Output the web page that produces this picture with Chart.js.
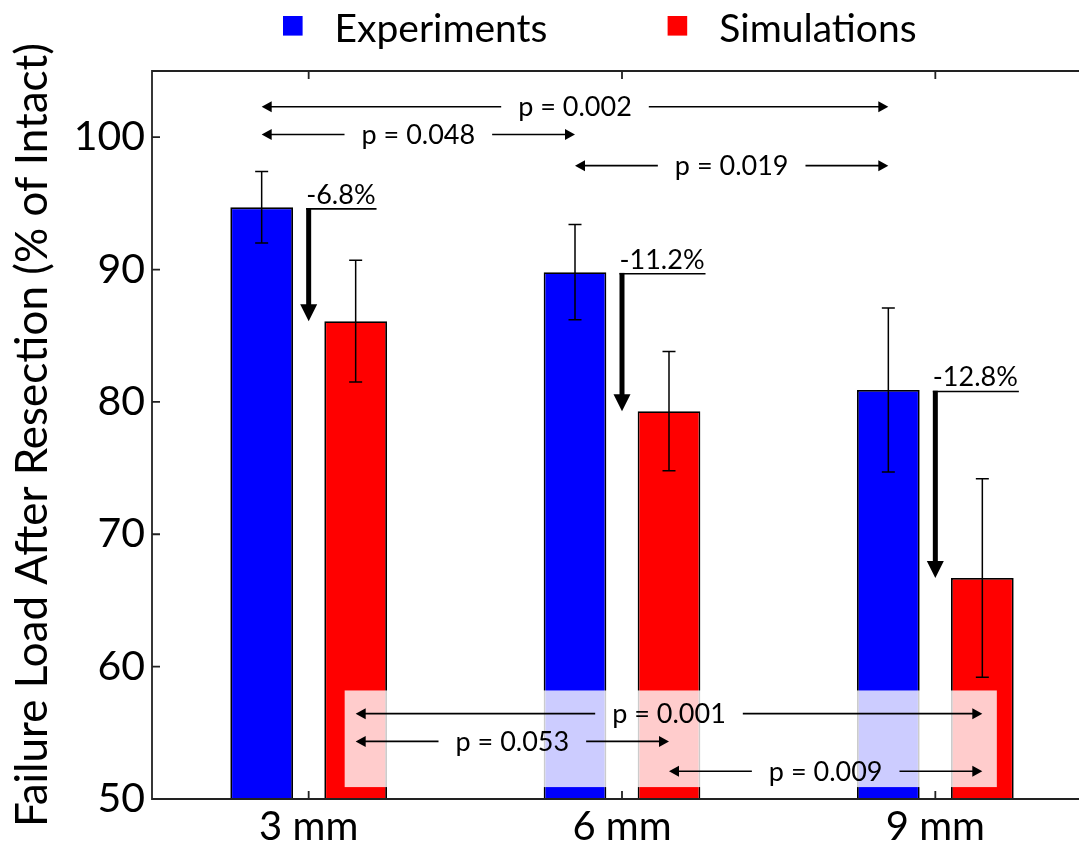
<!DOCTYPE html>
<html>
<head>
    <title>Failure Load After Resection</title>
    <script src="https://cdn.jsdelivr.net/npm/chart.js@4.4.1/dist/chart.umd.min.js"></script>
    <style>
        html, body {
            margin: 0;
            padding: 0;
            background: #fff;
            overflow: hidden;
        }
        /* the plot box runs a little past the right edge of the window, as in the original */
        .wrap {
            width: 1092px;
            height: 848px;
            position: relative;
        }
    </style>
</head>
<body>
    <div class="wrap">
        <canvas id="chart"></canvas>
    </div>

    <script>
        const categories = ['3 mm', '6 mm', '9 mm'];
        const experiments = [94.7, 89.8, 80.9];
        const experimentsSd = [2.7, 3.6, 6.2];
        const simulations = [86.1, 79.3, 66.7];
        const simulationsSd = [4.6, 4.5, 7.5];
        const changeLabels = ['-6.8%', '-11.2%', '-12.8%'];

        // pairwise comparisons (category indexes) and their p-values
        const expPairs = [[0, 2], [0, 1], [1, 2]];
        const expPValues = ['p = 0.002', 'p = 0.048', 'p = 0.019'];
        const simPairs = [[0, 2], [0, 1], [1, 2]];
        const simPValues = ['p = 0.001', 'p = 0.053', 'p = 0.009'];

        const FONT = 'Lato, "Open Sans", sans-serif';
        const INK = '#000';

        function arrowHead(ctx, x, y, dir, len, half) {
            // dir: 'left', 'right', 'down'
            ctx.beginPath();
            if (dir === 'left') {
                ctx.moveTo(x, y); ctx.lineTo(x + len, y - half); ctx.lineTo(x + len, y + half);
            } else if (dir === 'right') {
                ctx.moveTo(x, y); ctx.lineTo(x - len, y - half); ctx.lineTo(x - len, y + half);
            } else {
                ctx.moveTo(x, y); ctx.lineTo(x - half, y - len); ctx.lineTo(x + half, y - len);
            }
            ctx.closePath();
            ctx.fill();
        }

        function pArrow(ctx, x1, x2, y, text) {
            ctx.font = '27px ' + FONT;
            const w = ctx.measureText(text).width;
            const cx = (x1 + x2) / 2;
            const gap = 17;
            ctx.strokeStyle = INK;
            ctx.fillStyle = INK;
            ctx.lineWidth = 1.6;
            ctx.beginPath();
            ctx.moveTo(x1 + 6, y); ctx.lineTo(cx - w / 2 - gap, y);
            ctx.moveTo(cx + w / 2 + gap, y); ctx.lineTo(x2 - 6, y);
            ctx.stroke();
            arrowHead(ctx, x1, y, 'left', 10, 5.5);
            arrowHead(ctx, x2, y, 'right', 10, 5.5);
            ctx.textAlign = 'center';
            ctx.textBaseline = 'middle';
            ctx.fillText(text, cx, y + 1);
        }

        const annotations = {
            id: 'annotations',
            afterDatasetsDraw(chart) {
                const ctx = chart.ctx;
                const y = chart.scales.y;
                const area = chart.chartArea;
                const blue = chart.getDatasetMeta(0).data;
                const red = chart.getDatasetMeta(1).data;
                ctx.save();

                // error bars
                ctx.strokeStyle = INK;
                ctx.lineWidth = 1.5;
                [[blue, experiments, experimentsSd], [red, simulations, simulationsSd]].forEach(([bars, vals, sds]) => {
                    bars.forEach((bar, i) => {
                        const top = y.getPixelForValue(vals[i] + sds[i]);
                        const bot = y.getPixelForValue(vals[i] - sds[i]);
                        ctx.beginPath();
                        ctx.moveTo(bar.x, top); ctx.lineTo(bar.x, bot);
                        ctx.moveTo(bar.x - 6.5, top); ctx.lineTo(bar.x + 6.5, top);
                        ctx.moveTo(bar.x - 6.5, bot); ctx.lineTo(bar.x + 6.5, bot);
                        ctx.stroke();
                    });
                });

                // drop from experiment to simulation, with percentage
                ctx.font = '27px ' + FONT;
                ctx.textAlign = 'left';
                ctx.textBaseline = 'alphabetic';
                changeLabels.forEach((label, i) => {
                    const x = (blue[i].x + red[i].x) / 2;
                    const y0 = blue[i].y + 1.5;
                    const tip = red[i].y;
                    const w = ctx.measureText(label).width;
                    ctx.fillStyle = INK;
                    ctx.fillText(label, x - 2.5, y0 - 5);
                    ctx.lineWidth = 1.6;
                    ctx.beginPath();
                    ctx.moveTo(x - 2.5, y0); ctx.lineTo(x - 2.5 + w + 1, y0);
                    ctx.stroke();
                    ctx.lineWidth = 5;
                    ctx.beginPath();
                    ctx.moveTo(x, y0 - 0.8); ctx.lineTo(x, tip - 15);
                    ctx.stroke();
                    arrowHead(ctx, x, tip, 'down', 17, 8.5);
                });

                // experiment comparisons (top)
                const topRows = [102.3, 100.2, 97.85];
                expPairs.forEach(([a, b], r) => {
                    pArrow(ctx, blue[a].x, blue[b].x, y.getPixelForValue(topRows[r]), expPValues[r]);
                });

                // simulation comparisons (bottom), on a faded panel
                const bottomRows = [56.45, 54.35, 52.1];
                const boxTop = y.getPixelForValue(58.2);
                const boxBot = y.getPixelForValue(50.9);
                ctx.fillStyle = 'rgba(255,255,255,0.8)';
                ctx.fillRect(red[0].x - 11, boxTop, red[2].x + 14.5 - (red[0].x - 11), boxBot - boxTop);
                simPairs.forEach(([a, b], r) => {
                    pArrow(ctx, red[a].x, red[b].x, y.getPixelForValue(bottomRows[r]), simPValues[r]);
                });

                // frame with inward ticks
                ctx.strokeStyle = '#222';
                ctx.lineWidth = 1.8;
                ctx.beginPath();
                ctx.moveTo(area.right + 2, area.top); ctx.lineTo(area.left, area.top);
                ctx.lineTo(area.left, area.bottom); ctx.lineTo(area.right + 2, area.bottom);
                y.ticks.forEach(t => {
                    const py = y.getPixelForValue(t.value);
                    ctx.moveTo(area.left, py); ctx.lineTo(area.left + 8, py);
                });
                const xs = chart.scales.x;
                categories.forEach((c, i) => {
                    const px = xs.getPixelForValue(i);
                    ctx.moveTo(px, area.bottom); ctx.lineTo(px, area.bottom - 8);
                    ctx.moveTo(px, area.top); ctx.lineTo(px, area.top + 8);
                });
                ctx.stroke();

                ctx.restore();
            },
            afterDraw(chart) {
                // legend above the plot
                const ctx = chart.ctx;
                ctx.save();
                ctx.font = '39px ' + FONT;
                ctx.textAlign = 'left';
                ctx.textBaseline = 'alphabetic';
                const items = [
                    {label: 'Experiments', color: '#0000ff', box: 283, text: 334.5},
                    {label: 'Simulations', color: '#ff0000', box: 667.6, text: 719.3}
                ];
                items.forEach(it => {
                    ctx.fillStyle = it.color;
                    ctx.fillRect(it.box, 16, 19.6, 19.6);
                    ctx.fillStyle = INK;
                    ctx.fillText(it.label, it.text, 41.7);
                });
                ctx.restore();
            }
        };

        function build() {
            const ctx = document.getElementById('chart').getContext('2d');
            new Chart(ctx, {
                type: 'bar',
                data: {
                    labels: categories,
                    datasets: [
                        {
                            label: 'Experiments',
                            data: experiments,
                            backgroundColor: '#0000ff',
                            borderColor: '#000',
                            borderWidth: 1.8,
                            barPercentage: 0.667,
                            categoryPercentage: 0.6
                        },
                        {
                            label: 'Simulations',
                            data: simulations,
                            backgroundColor: '#ff0000',
                            borderColor: '#000',
                            borderWidth: 1.8,
                            barPercentage: 0.667,
                            categoryPercentage: 0.6
                        }
                    ]
                },
                options: {
                    responsive: true,
                    maintainAspectRatio: false,
                    animation: false,
                    layout: {
                        padding: {top: 71, left: 0, right: 0, bottom: 0}
                    },
                    plugins: {
                        legend: {display: false},
                        tooltip: {enabled: false}
                    },
                    scales: {
                        x: {
                            grid: {display: false, drawTicks: false},
                            border: {display: false},
                            ticks: {
                                color: INK,
                                padding: 4,
                                font: {family: FONT, size: 40}
                            },
                            afterFit: s => { s.height = 49; }
                        },
                        y: {
                            min: 50,
                            max: 105,
                            grid: {display: false, drawTicks: false},
                            border: {display: false},
                            ticks: {
                                stepSize: 10,
                                color: INK,
                                padding: 7,
                                font: {family: FONT, size: 41}
                            },
                            afterBuildTicks: s => {
                                s.ticks = s.ticks.filter(t => t.value % 10 === 0);
                            },
                            title: {
                                display: true,
                                text: 'Failure Load After Resection (% of Intact)',
                                color: INK,
                                padding: {top: 6, bottom: 0},
                                font: {family: FONT, size: 44}
                            },
                            afterFit: s => { s.width = 152; }
                        }
                    }
                },
                plugins: [annotations]
            });
        }

        if (document.fonts && document.fonts.load) {
            document.fonts.load('39px Lato').then(build, build);
        } else {
            build();
        }
    </script>
</body>
</html>
